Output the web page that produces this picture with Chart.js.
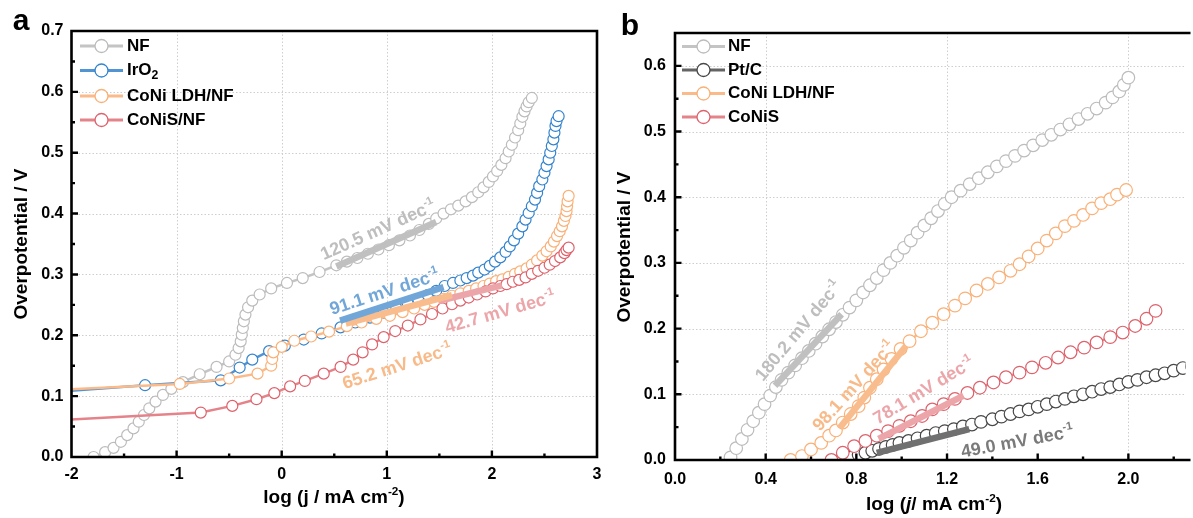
<!DOCTYPE html>
<html>
<head>
<meta charset="utf-8">
<script src="https://cdn.jsdelivr.net/npm/chart.js@4"></script>
<style>
html,body{margin:0;padding:0;background:#fff;}
#wrap{position:relative;width:1193px;height:518px;overflow:hidden;background:#fff;}
canvas{position:absolute;top:0;}
#cA{left:0;width:615px;height:518px;}
#cB{left:600px;width:593px;height:518px;}
</style>
</head>
<body>
<div id="wrap">
<canvas id="cA" width="615" height="518"></canvas>
<canvas id="cB" width="593" height="518"></canvas>
</div>
<script>
// ---------- panel a data (log j, overpotential) ----------
const aNF_x = [-1.79,-1.68,-1.60,-1.53,-1.47,-1.41,-1.36,-1.31,-1.26,-1.20,-1.13,-1.05,-0.94,-0.78,-0.62,-0.50,-0.44,-0.41,-0.39,-0.38,-0.37,-0.36,-0.345,-0.32,-0.28,-0.21,-0.10,0.05,0.20,0.36,0.52,
  0.62,0.72,0.82,0.92,1.02,1.12,1.22,1.31,1.40,1.47,1.54,1.61,1.68,1.75,1.81,1.87,1.92,1.97,2.01,2.05,2.09,2.13,2.16,2.19,2.22,2.25,2.27,2.29,2.31,2.33,2.35,2.38];
const aNF_y = [0.000,0.008,0.015,0.025,0.036,0.047,0.058,0.069,0.080,0.091,0.102,0.112,0.123,0.136,0.148,0.157,0.168,0.179,0.190,0.201,0.212,0.223,0.234,0.246,0.257,0.267,0.277,0.286,0.294,0.304,0.315,
  0.321,0.327,0.334,0.341,0.348,0.356,0.364,0.373,0.383,0.392,0.400,0.407,0.413,0.420,0.427,0.435,0.443,0.452,0.461,0.470,0.480,0.491,0.502,0.513,0.525,0.537,0.548,0.559,0.568,0.576,0.583,0.590];

const aIr_x = [-2.40,-1.30,-0.58,-0.40,-0.28,-0.12,0.03,0.21,0.38,0.56,0.70,0.84,0.97,1.09,1.20,1.30,1.39,1.47,
  1.55,1.63,1.70,1.76,1.82,1.87,1.93,1.98,2.03,2.08,2.13,2.17,2.21,2.25,2.29,2.32,2.35,2.38,2.41,2.43,2.45,2.48,2.50,2.52,2.54,2.555,2.57,2.585,2.595,2.605,2.615,2.635];
const aIr_y = [0.104,0.118,0.126,0.147,0.160,0.174,0.183,0.193,0.203,0.213,0.221,0.229,0.237,0.245,0.252,0.259,0.266,0.273,
  0.281,0.286,0.290,0.294,0.298,0.303,0.308,0.314,0.321,0.328,0.337,0.346,0.356,0.367,0.379,0.390,0.401,0.412,0.423,0.434,0.445,0.456,0.467,0.478,0.489,0.500,0.511,0.522,0.533,0.544,0.552,0.560];

const aLDH_x = [-2.40,-0.97,-0.50,-0.23,-0.10,-0.09,-0.08,0.00,0.12,0.28,0.45,0.62,0.76,0.90,1.03,1.15,1.26,1.36,1.45,1.54,1.62,1.70,1.78,1.85,1.92,
  1.98,2.04,2.10,2.16,2.22,2.27,2.33,2.38,2.43,2.48,2.52,2.56,2.59,2.62,2.645,2.667,2.685,2.70,2.71,2.715,2.72,2.73];
const aLDH_y = [0.108,0.120,0.129,0.137,0.150,0.161,0.172,0.181,0.191,0.198,0.206,0.215,0.221,0.227,0.232,0.238,0.244,0.250,0.255,0.260,0.265,0.269,0.273,0.277,0.281,
  0.285,0.289,0.292,0.296,0.301,0.305,0.310,0.316,0.323,0.331,0.338,0.346,0.354,0.363,0.371,0.379,0.388,0.396,0.404,0.412,0.420,0.429];

const aS_x = [-2.40,-0.77,-0.47,-0.24,-0.07,0.08,0.22,0.40,0.56,0.68,0.77,0.86,0.97,1.08,1.20,1.32,1.43,1.53,
  1.62,1.70,1.78,1.86,1.94,2.01,2.08,2.14,2.20,2.26,2.32,2.38,2.44,2.50,2.55,2.60,2.65,2.69,2.71,2.73];
const aS_y = [0.058,0.073,0.084,0.095,0.105,0.116,0.125,0.137,0.148,0.160,0.172,0.185,0.197,0.207,0.216,0.226,0.235,0.244,
  0.251,0.257,0.262,0.267,0.272,0.277,0.281,0.284,0.288,0.291,0.295,0.301,0.306,0.311,0.316,0.322,0.328,0.335,0.340,0.344];

// Tafel fit segments, panel a: [x0, y0, x1, y1]
const aFitNF = [0.52, 0.313, 1.47, 0.386];
const aFitIr = [0.556, 0.224, 1.54, 0.279];
const aFitLDH = [0.61, 0.219, 1.62, 0.266];
const aFitS = [1.49, 0.256, 2.095, 0.282];

const aLabels = ['NF', 'IrO2', 'CoNi LDH/NF', 'CoNiS/NF'];
const aSlopes = ['120.5', '91.1', '65.2', '42.7'];
const aXTicks = [-2, -1, 0, 1, 2, 3];
const aXTickLabels = ['-2', '-1', '0', '1', '2', '3'];
const aYTicks = [0, 0.1, 0.2, 0.3, 0.4, 0.5, 0.6, 0.7];
const aYTickLabels = ['0.0', '0.1', '0.2', '0.3', '0.4', '0.5', '0.6', '0.7'];

// ---------- panel b data ----------
const bNF_x = [0.245,0.27,0.295,0.32,0.345,0.37,0.395,0.42,0.445,0.47,0.50,0.53,0.56,0.59,0.62,0.65,0.68,0.71,0.74,0.77,0.80,0.83,0.86,0.89,0.92,0.95,0.98,1.01,1.04,1.07,1.10,1.13,1.16,1.19,1.22,1.26,1.30,1.34,1.38,1.42,1.46,1.50,1.54,1.58,1.62,1.66,1.70,1.74,1.78,1.82,1.86,1.90,1.93,1.96,1.98,2.00];
const bNF_y = [0.004,0.018,0.032,0.046,0.059,0.072,0.085,0.098,0.111,0.122,0.133,0.144,0.155,0.166,0.177,0.188,0.199,0.210,0.221,0.232,0.243,0.255,0.266,0.277,0.289,0.300,0.311,0.323,0.334,0.346,0.357,0.368,0.379,0.390,0.400,0.410,0.420,0.429,0.438,0.447,0.455,0.463,0.471,0.479,0.487,0.495,0.503,0.511,0.519,0.527,0.535,0.544,0.552,0.561,0.571,0.582];

const bPt_x = [0.73,0.78,0.81,0.84,0.87,0.90,0.93,0.96,0.99,1.03,1.07,1.11,1.15,1.19,1.23,1.27,1.31,1.35,1.40,1.44,1.48,1.52,1.56,1.60,1.64,1.68,1.72,1.76,1.80,1.84,1.88,1.92,1.96,2.00,2.04,2.08,2.12,2.16,2.20,2.24,2.28];
const bPt_y = [0.000,0.004,0.008,0.011,0.014,0.017,0.020,0.023,0.026,0.029,0.033,0.037,0.041,0.044,0.047,0.051,0.054,0.058,0.062,0.066,0.070,0.074,0.077,0.081,0.085,0.089,0.093,0.097,0.100,0.104,0.108,0.111,0.115,0.119,0.122,0.126,0.129,0.132,0.136,0.140,0.143];

const bLDH_x = [0.51,0.56,0.60,0.645,0.68,0.71,0.74,0.775,0.81,0.835,0.86,0.89,0.92,0.955,0.995,1.035,1.085,1.135,1.185,1.235,1.28,1.33,1.38,1.43,1.48,1.52,1.56,1.60,1.64,1.68,1.72,1.76,1.80,1.84,1.88,1.92,1.95,1.99];
const bLDH_y = [0.000,0.006,0.016,0.026,0.037,0.045,0.057,0.070,0.082,0.095,0.110,0.123,0.138,0.154,0.169,0.181,0.196,0.209,0.222,0.235,0.246,0.258,0.268,0.278,0.288,0.298,0.310,0.322,0.334,0.345,0.356,0.364,0.373,0.383,0.391,0.397,0.404,0.411];

const bS_x = [0.69,0.74,0.79,0.84,0.89,0.94,0.99,1.04,1.09,1.135,1.185,1.235,1.29,1.345,1.405,1.46,1.52,1.575,1.635,1.69,1.745,1.805,1.86,1.92,1.975,2.03,2.08,2.12];
const bS_y = [0.000,0.011,0.021,0.029,0.037,0.044,0.052,0.059,0.067,0.077,0.085,0.093,0.102,0.110,0.118,0.126,0.133,0.141,0.148,0.156,0.164,0.171,0.179,0.187,0.194,0.204,0.215,0.227];

const bFitNF = [0.441, 0.113, 0.735, 0.222];
const bFitLDH = [0.727, 0.049, 1.02, 0.174];
const bFitS = [0.898, 0.032, 1.273, 0.098];
const bFitPt = [0.89, 0.011, 1.298, 0.047];

const bLabels = ['NF', 'Pt/C', 'CoNi LDH/NF', 'CoNiS'];
const bSlopes = ['180.2', '98.1', '78.1', '49.0'];
const bXTicks = [0, 0.4, 0.8, 1.2, 1.6, 2.0];
const bXTickLabels = ['0.0', '0.4', '0.8', '1.2', '1.6', '2.0'];
const bXGrid = [0.4, 1.2, 2.0];
const bYTicks = [0, 0.1, 0.2, 0.3, 0.4, 0.5, 0.6];
const bYTickLabels = ['0.0', '0.1', '0.2', '0.3', '0.4', '0.5', '0.6'];

// ---------- styling ----------
const FONT = '"Liberation Sans", Arial, Helvetica, sans-serif';
const C = {
  nf: { mark: 'rgb(188,188,188)', line: 'rgb(196,196,196)', fit: 'rgb(192,192,192)', text: 'rgb(190,190,190)' },
  ir: { mark: 'rgb(52,132,206)', line: 'rgb(80,148,212)', fit: 'rgb(112,166,216)', text: 'rgb(112,166,216)' },
  ldh: { mark: 'rgb(250,176,118)', line: 'rgb(250,186,138)', fit: 'rgb(249,188,140)', text: 'rgb(248,186,136)' },
  s: { mark: 'rgb(222,98,108)', line: 'rgb(228,132,138)', fit: 'rgb(236,166,170)', text: 'rgb(236,166,170)' },
  pt: { mark: 'rgb(72,72,72)', line: 'rgb(100,100,100)', fit: 'rgb(112,112,112)', text: 'rgb(122,122,122)' }
};

function fnt(size, italic) { return (italic ? 'italic ' : '') + 'bold ' + size + 'px ' + FONT; }

function partSize(p, size) { return p.sup ? size * 0.62 : (p.sub ? size * 0.72 : size); }

function richWidth(ctx, parts, size) {
  let w = 0;
  for (const p of parts) {
    ctx.font = fnt(partSize(p, size), p.it);
    w += ctx.measureText(p.t).width;
  }
  return w;
}

function drawRich(ctx, parts, x, y, size, color, align, angle) {
  ctx.save();
  ctx.translate(x, y);
  if (angle) ctx.rotate(angle * Math.PI / 180);
  ctx.fillStyle = color;
  ctx.textBaseline = 'middle';
  ctx.textAlign = 'left';
  const w = richWidth(ctx, parts, size);
  let cx = align === 'center' ? -w / 2 : (align === 'right' ? -w : 0);
  for (const p of parts) {
    ctx.font = fnt(partSize(p, size), p.it);
    const dy = p.sup ? -size * 0.34 : (p.sub ? size * 0.3 : 0);
    ctx.fillText(p.t, cx, dy);
    cx += ctx.measureText(p.t).width;
  }
  ctx.restore();
}

function pts(xs, ys) { return xs.map((x, i) => ({ x: x, y: ys[i] })); }

function series(xs, ys, col, order, r) {
  return {
    data: pts(xs, ys), showLine: true, borderColor: col.line, borderWidth: 2.5,
    pointRadius: r, pointBorderColor: col.mark, pointBackgroundColor: '#fff',
    pointBorderWidth: 1.2, order: order, clip: 0
  };
}

function fit(seg, col) {
  return {
    data: [{ x: seg[0], y: seg[1] }, { x: seg[2], y: seg[3] }], showLine: true,
    borderColor: col.fit, borderWidth: 6.5, borderCapStyle: 'butt', pointRadius: 0, order: 0, clip: 0
  };
}

function decoPlugin(p) {
  return {
    id: 'deco',
    beforeDatasetsDraw(chart) {
      const ctx = chart.ctx, xs = chart.scales.x, ys = chart.scales.y, a = chart.chartArea;
      ctx.save();
      ctx.strokeStyle = 'rgb(206,206,206)';
      ctx.lineWidth = 1;
      ctx.setLineDash([1.5, 2]);
      for (const v of p.xGrid) {
        const px = Math.round(xs.getPixelForValue(v)) + 0.5;
        ctx.beginPath(); ctx.moveTo(px, a.top); ctx.lineTo(px, a.bottom); ctx.stroke();
      }
      for (const v of p.yGrid) {
        const py = Math.round(ys.getPixelForValue(v)) + 0.5;
        ctx.beginPath(); ctx.moveTo(a.left, py); ctx.lineTo(a.right, py); ctx.stroke();
      }
      ctx.restore();
    },
    afterDatasetsDraw(chart) {
      const ctx = chart.ctx, xs = chart.scales.x, ys = chart.scales.y;
      for (const n of p.notes) {
        drawRich(ctx, [{ t: n.val + ' mV dec' }, { t: '-1', sup: true }],
          xs.getPixelForValue(n.x), ys.getPixelForValue(n.y), 18, n.color, 'center', n.rot);
      }
    },
    afterDraw(chart) {
      const ctx = chart.ctx, xs = chart.scales.x, ys = chart.scales.y, a = chart.chartArea;
      ctx.save();
      // frame
      ctx.strokeStyle = '#000';
      ctx.lineWidth = 2.6;
      ctx.setLineDash([]);
      ctx.beginPath();
      if (p.rightBorder) {
        ctx.rect(a.left, a.top, a.right - a.left, a.bottom - a.top);
      } else {
        ctx.moveTo(a.right + 5, a.top); ctx.lineTo(a.left, a.top);
        ctx.lineTo(a.left, a.bottom); ctx.lineTo(a.right + 5, a.bottom);
      }
      ctx.stroke();
      // inner ticks
      ctx.lineWidth = 2.4;
      ctx.beginPath();
      for (const v of p.xMajor) {
        const px = xs.getPixelForValue(v);
        if (px <= a.left + 2 || px >= a.right - 2) continue;
        ctx.moveTo(px, a.bottom); ctx.lineTo(px, a.bottom - 6.5);
      }
      for (const v of p.xMinor) {
        const px = xs.getPixelForValue(v);
        ctx.moveTo(px, a.bottom); ctx.lineTo(px, a.bottom - 3.5);
      }
      for (const v of p.yMajor) {
        const py = ys.getPixelForValue(v);
        if (py <= a.top + 2 || py >= a.bottom - 2) continue;
        ctx.moveTo(a.left, py); ctx.lineTo(a.left + 6.5, py);
      }
      for (const v of p.yMinor) {
        const py = ys.getPixelForValue(v);
        ctx.moveTo(a.left, py); ctx.lineTo(a.left + 3.5, py);
      }
      ctx.stroke();
      ctx.restore();

      // legend
      const L = p.legend;
      p.legendItems.forEach((it, i) => {
        const y = L.rows[i];
        ctx.save();
        ctx.strokeStyle = it.col.line;
        ctx.lineWidth = 3;
        ctx.beginPath(); ctx.moveTo(L.x0, y); ctx.lineTo(L.x1, y); ctx.stroke();
        ctx.fillStyle = '#fff';
        ctx.strokeStyle = it.col.mark;
        ctx.lineWidth = 1.3;
        ctx.beginPath(); ctx.arc((L.x0 + L.x1) / 2, y, L.r, 0, Math.PI * 2); ctx.fill(); ctx.stroke();
        ctx.restore();
        drawRich(ctx, it.parts, L.tx, y, L.size, '#000', 'left', 0);
      });

      // axis titles and panel letter
      drawRich(ctx, p.xTitle, p.xTitlePos[0], p.xTitlePos[1], 19, '#000', 'center', 0);
      drawRich(ctx, [{ t: 'Overpotential / V' }], p.yTitlePos[0], p.yTitlePos[1], 19, '#000', 'center', -90);
      drawRich(ctx, [{ t: p.letter }], p.letterPos[0], p.letterPos[1], 30, '#000', 'center', 0);
    }
  };
}

function makeChart(id, p, datasets) {
  return new Chart(document.getElementById(id), {
    type: 'scatter',
    data: { datasets: datasets },
    options: {
      responsive: false,
      animation: false,
      events: [],
      layout: { padding: p.pad },
      plugins: { legend: { display: false }, tooltip: { enabled: false } },
      scales: {
        x: {
          type: 'linear', min: p.xMin, max: p.xMax,
          afterBuildTicks: s => { s.ticks = p.xTicks.map(v => ({ value: v })); },
          afterFit: s => { s.height = 40; },
          grid: { display: false, drawTicks: false },
          border: { display: false },
          ticks: {
            padding: p.xPad, color: '#000', font: { family: FONT, size: 16, weight: 'bold' },
            maxRotation: 0, autoSkip: false,
            callback: (v, i) => p.xTickLabels[i]
          }
        },
        y: {
          type: 'linear', min: p.yMin, max: p.yMax,
          afterBuildTicks: s => { s.ticks = p.yTicks.map(v => ({ value: v })); },
          afterFit: s => { s.width = 60; },
          grid: { display: false, drawTicks: false },
          border: { display: false },
          ticks: {
            padding: p.yPad, color: '#000', font: { family: FONT, size: 16, weight: 'bold' },
            autoSkip: false,
            callback: (v, i) => p.yTickLabels[i]
          }
        }
      }
    },
    plugins: [decoPlugin(p)]
  });
}

// ---------- panel a ----------
const panelA = {
  pad: { left: 11.5, right: 18, top: 31, bottom: 21 },
  xMin: -2, xMax: 3, yMin: 0, yMax: 0.7,
  xTicks: aXTicks, xTickLabels: aXTickLabels, yTicks: aYTicks, yTickLabels: aYTickLabels,
  xPad: 8, yPad: 8,
  xGrid: [-1, 0, 1, 2], yGrid: [0.1, 0.2, 0.3, 0.4, 0.5, 0.6],
  xMajor: aXTicks, xMinor: [-1.5, -0.5, 0.5, 1.5, 2.5],
  yMajor: aYTicks, yMinor: [0.05, 0.15, 0.25, 0.35, 0.45, 0.55, 0.65],
  rightBorder: true,
  notes: [
    { val: aSlopes[0], x: 0.92, y: 0.372, rot: -24, color: C.nf.text },
    { val: aSlopes[1], x: 0.98, y: 0.270, rot: -18, color: C.ir.text },
    { val: aSlopes[2], x: 1.10, y: 0.148, rot: -18, color: C.ldh.text },
    { val: aSlopes[3], x: 2.08, y: 0.237, rot: -16, color: C.s.text }
  ],
  legend: { x0: 80, x1: 123, tx: 127, r: 6.5, size: 17, rows: [46, 70.5, 96, 120] },
  legendItems: [
    { col: C.nf, parts: [{ t: aLabels[0] }] },
    { col: C.ir, parts: [{ t: 'IrO' }, { t: '2', sub: true }] },
    { col: C.ldh, parts: [{ t: aLabels[2] }] },
    { col: C.s, parts: [{ t: aLabels[3] }] }
  ],
  xTitle: [{ t: 'log (j / mA cm' }, { t: '-2', sup: true }, { t: ')' }],
  xTitlePos: [334, 498], yTitlePos: [22, 244],
  letter: 'a', letterPos: [21, 22]
};

makeChart('cA', panelA, [
  fit(aFitNF, C.nf), fit(aFitIr, C.ir), fit(aFitLDH, C.ldh), fit(aFitS, C.s),
  series(aS_x, aS_y, C.s, 1, 5.5),
  series(aLDH_x, aLDH_y, C.ldh, 2, 5.5),
  series(aIr_x, aIr_y, C.ir, 3, 5.5),
  series(aNF_x, aNF_y, C.nf, 4, 5.5)
]);

// ---------- panel b ----------
const panelB = {
  pad: { left: 15, right: 0, top: 33, bottom: 18 },
  xMin: 0, xMax: 2.252, yMin: 0, yMax: 0.65,
  xTicks: bXTicks, xTickLabels: bXTickLabels, yTicks: bYTicks, yTickLabels: bYTickLabels,
  xPad: 10, yPad: 9,
  xGrid: bXGrid, yGrid: [0.1, 0.2, 0.3, 0.4, 0.5, 0.6],
  xMajor: bXTicks, xMinor: [0.2, 0.6, 1.0, 1.4, 1.8, 2.2],
  yMajor: bYTicks, yMinor: [0.05, 0.15, 0.25, 0.35, 0.45, 0.55],
  rightBorder: false,
  notes: [
    { val: bSlopes[0], x: 0.547, y: 0.196, rot: -50, color: C.nf.text },
    { val: bSlopes[1], x: 0.792, y: 0.112, rot: -48, color: C.ldh.text },
    { val: bSlopes[2], x: 1.099, y: 0.105, rot: -31, color: C.s.text },
    { val: bSlopes[3], x: 1.51, y: 0.027, rot: -10.5, color: C.pt.text }
  ],
  legend: { x0: 82, x1: 125, tx: 128, r: 6.5, size: 17, rows: [46.5, 70, 93.5, 117] },
  legendItems: [
    { col: C.nf, parts: [{ t: bLabels[0] }] },
    { col: C.pt, parts: [{ t: bLabels[1] }] },
    { col: C.ldh, parts: [{ t: bLabels[2] }] },
    { col: C.s, parts: [{ t: bLabels[3] }] }
  ],
  xTitle: [{ t: 'log (' }, { t: 'j', it: true }, { t: '/ mA cm' }, { t: '-2', sup: true }, { t: ')' }],
  xTitlePos: [334, 505], yTitlePos: [25, 247],
  letter: 'b', letterPos: [30, 27]
};

makeChart('cB', panelB, [
  fit(bFitNF, C.nf), fit(bFitLDH, C.ldh), fit(bFitS, C.s), fit(bFitPt, C.pt),
  series(bS_x, bS_y, C.s, 1, 6.3),
  series(bLDH_x, bLDH_y, C.ldh, 2, 6.3),
  series(bPt_x, bPt_y, C.pt, 3, 6.3),
  series(bNF_x, bNF_y, C.nf, 4, 6.3)
]);
</script>
</body>
</html>
